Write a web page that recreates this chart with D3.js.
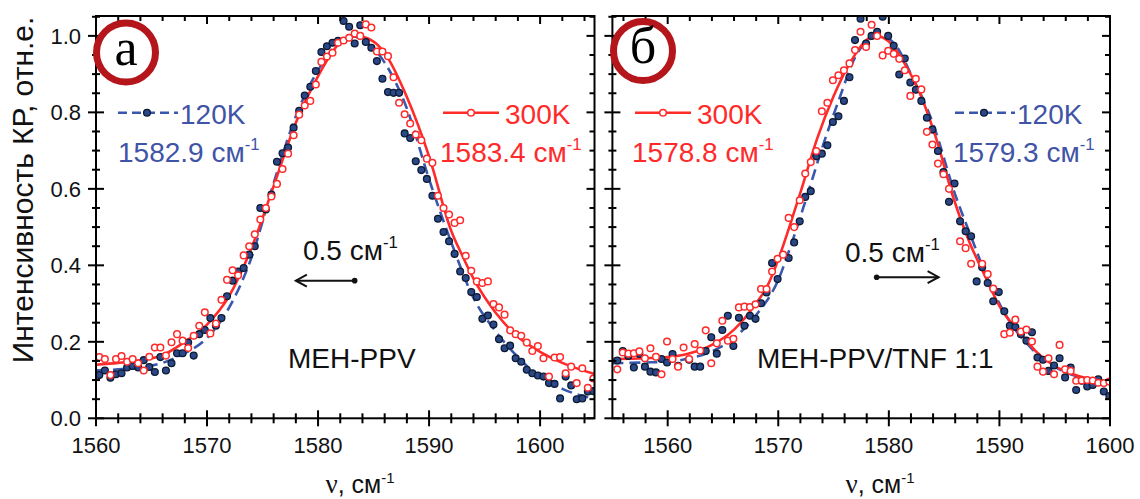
<!DOCTYPE html>
<html><head><meta charset="utf-8">
<script src="https://cdn.jsdelivr.net/npm/d3@7"></script>
<style>
body{margin:0;background:#fff}
svg{display:block}
</style>
</head><body>
<svg id="c" width="1140" height="499" font-family="'Liberation Sans',Arial,sans-serif"></svg>
<script>
// ---------- DATA ----------
// Panel (a) MEH-PPV : [wavenumber, normalised intensity]
const a120pts = [[1560.3,0.113],[1560.8,0.125],[1561.3,0.106],[1561.8,0.115],[1562.3,0.118],[1562.8,0.133],[1563.3,0.137],[1563.8,0.133],[1564.3,0.152],[1564.8,0.134],[1565.3,0.121],[1565.8,0.160],[1566.3,0.125],[1566.8,0.144],[1567.3,0.170],[1567.8,0.170],[1568.3,0.198],[1568.8,0.164],[1569.3,0.220],[1569.8,0.231],[1570.3,0.262],[1570.8,0.242],[1571.3,0.262],[1571.8,0.319],[1572.3,0.360],[1572.8,0.384],[1573.3,0.393],[1573.8,0.428],[1574.3,0.450],[1574.8,0.550],[1575.3,0.546],[1575.8,0.585],[1576.3,0.671],[1576.8,0.693],[1577.3,0.708],[1577.8,0.760],[1578.3,0.804],[1578.8,0.844],[1579.3,0.867],[1579.8,0.908],[1580.3,0.958],[1580.8,0.973],[1581.3,0.982],[1581.8,0.987],[1582.3,1.039],[1582.8,1.024],[1583.3,0.980],[1583.8,1.028],[1584.3,0.984],[1584.8,0.969],[1585.3,0.934],[1585.8,0.888],[1586.3,0.853],[1586.8,0.851],[1587.3,0.851],[1587.8,0.745],[1588.3,0.733],[1588.8,0.672],[1589.3,0.649],[1589.8,0.626],[1590.3,0.582],[1590.8,0.522],[1591.3,0.487],[1591.8,0.463],[1592.3,0.430],[1592.8,0.384],[1593.3,0.367],[1593.8,0.330],[1594.3,0.317],[1594.8,0.260],[1595.3,0.269],[1595.8,0.245],[1596.3,0.207],[1596.8,0.183],[1597.3,0.190],[1597.8,0.157],[1598.3,0.148],[1598.8,0.127],[1599.3,0.118],[1599.8,0.112],[1600.3,0.109],[1600.8,0.092],[1601.3,0.090],[1601.8,0.052],[1602.3,0.109],[1602.8,0.086],[1603.3,0.050],[1603.8,0.052],[1604.3,0.070],[1604.8,0.071]];
const a300pts = [[1560.3,0.160],[1560.8,0.155],[1561.3,0.113],[1561.8,0.155],[1562.3,0.163],[1562.8,0.148],[1563.3,0.155],[1563.8,0.144],[1564.3,0.125],[1564.8,0.161],[1565.3,0.185],[1565.8,0.185],[1566.3,0.164],[1566.8,0.199],[1567.3,0.220],[1567.8,0.203],[1568.3,0.184],[1568.8,0.216],[1569.3,0.242],[1569.8,0.277],[1570.3,0.222],[1570.8,0.248],[1571.3,0.310],[1571.8,0.362],[1572.3,0.387],[1572.8,0.374],[1573.3,0.426],[1573.8,0.450],[1574.3,0.481],[1574.8,0.520],[1575.3,0.550],[1575.8,0.580],[1576.3,0.613],[1576.8,0.652],[1577.3,0.692],[1577.8,0.740],[1578.3,0.794],[1578.8,0.818],[1579.3,0.830],[1579.8,0.873],[1580.3,0.932],[1580.8,0.946],[1581.3,0.956],[1581.8,0.982],[1582.3,0.988],[1582.8,0.995],[1583.3,1.006],[1583.8,1.000],[1584.3,1.030],[1584.8,1.022],[1585.3,0.959],[1585.8,0.959],[1586.3,0.947],[1586.8,0.892],[1587.3,0.825],[1587.8,0.795],[1588.3,0.771],[1588.8,0.742],[1589.3,0.727],[1589.8,0.679],[1590.3,0.668],[1590.8,0.582],[1591.3,0.550],[1591.8,0.533],[1592.3,0.511],[1592.8,0.518],[1593.3,0.425],[1593.8,0.386],[1594.3,0.358],[1594.8,0.354],[1595.3,0.358],[1595.8,0.299],[1596.3,0.290],[1596.8,0.271],[1597.3,0.230],[1597.8,0.220],[1598.3,0.216],[1598.8,0.198],[1599.3,0.176],[1599.8,0.189],[1600.3,0.157],[1600.8,0.109],[1601.3,0.159],[1601.8,0.160],[1602.3,0.118],[1602.8,0.135],[1603.3,0.092],[1603.8,0.131],[1604.3,0.080],[1604.8,0.104]];
const a120fit = [[1560,0.125],[1562,0.128],[1564,0.133],[1566,0.145],[1568,0.170],[1570,0.210],[1572,0.290],[1574,0.420],[1576,0.615],[1578,0.790],[1580,0.910],[1582,0.985],[1582.9,1.0],[1584,0.99],[1586,0.93],[1588,0.81],[1590,0.625],[1592,0.46],[1594,0.315],[1596,0.227],[1598,0.160],[1600,0.108],[1602,0.077],[1605,0.050]];
const a300fit = [[1560,0.140],[1562,0.145],[1564,0.152],[1566,0.165],[1568,0.200],[1570,0.245],[1572,0.320],[1574,0.445],[1576,0.607],[1578,0.773],[1580,0.895],[1582,0.983],[1583.4,1.0],[1585,0.985],[1586,0.955],[1588,0.840],[1590,0.685],[1592,0.490],[1593,0.425],[1594,0.365],[1596,0.276],[1598,0.213],[1600,0.174],[1602,0.145],[1605,0.115]];

// Panel (б) MEH-PPV/TNF 1:1
const b120pts = [[1555.44,0.151],[1555.94,0.176],[1556.44,0.163],[1556.94,0.133],[1557.44,0.168],[1557.94,0.135],[1558.44,0.122],[1558.94,0.120],[1559.44,0.155],[1559.94,0.146],[1560.44,0.168],[1560.94,0.137],[1561.94,0.153],[1562.44,0.135],[1562.94,0.135],[1563.44,0.176],[1563.94,0.212],[1564.44,0.169],[1564.94,0.231],[1565.44,0.268],[1565.94,0.189],[1566.44,0.263],[1566.94,0.242],[1567.44,0.268],[1567.94,0.260],[1568.44,0.301],[1568.94,0.329],[1569.44,0.406],[1569.94,0.364],[1570.94,0.419],[1571.44,0.460],[1571.94,0.515],[1572.44,0.579],[1572.94,0.594],[1573.44,0.685],[1573.94,0.692],[1574.44,0.714],[1574.94,0.775],[1575.44,0.790],[1575.94,0.830],[1576.44,0.892],[1576.94,0.989],[1577.44,1.045],[1577.94,0.980],[1578.44,1.000],[1578.94,1.011],[1579.44,1.050],[1579.94,1.000],[1580.44,0.974],[1580.94,0.899],[1581.44,0.941],[1581.94,0.878],[1582.44,0.859],[1582.94,0.830],[1583.44,0.786],[1583.94,0.755],[1584.44,0.699],[1584.94,0.644],[1585.44,0.566],[1585.94,0.614],[1586.44,0.515],[1586.94,0.489],[1587.44,0.476],[1587.94,0.358],[1588.44,0.395],[1588.94,0.354],[1589.44,0.306],[1589.94,0.330],[1590.44,0.280],[1590.94,0.242],[1591.44,0.239],[1591.94,0.220],[1592.44,0.203],[1592.94,0.225],[1593.44,0.159],[1593.94,0.153],[1594.44,0.124],[1594.94,0.138],[1595.44,0.157],[1595.94,0.107],[1596.44,0.133],[1596.94,0.074],[1597.44,0.098],[1597.94,0.083],[1598.44,0.087],[1598.94,0.102],[1599.44,0.070],[1599.94,0.058]];
const b300pts = [[1555.44,0.128],[1555.94,0.172],[1556.44,0.169],[1556.94,0.170],[1557.44,0.175],[1557.94,0.157],[1558.44,0.183],[1558.94,0.161],[1559.44,0.115],[1559.94,0.201],[1560.44,0.155],[1560.94,0.135],[1561.44,0.185],[1561.94,0.155],[1562.44,0.194],[1562.94,0.177],[1563.44,0.230],[1563.94,0.144],[1564.44,0.196],[1564.94,0.255],[1565.44,0.203],[1565.94,0.208],[1566.44,0.290],[1566.94,0.292],[1567.44,0.291],[1567.94,0.298],[1568.44,0.338],[1568.94,0.338],[1569.44,0.384],[1569.94,0.417],[1570.44,0.428],[1570.94,0.524],[1571.44,0.500],[1571.94,0.570],[1572.44,0.640],[1572.94,0.670],[1573.44,0.699],[1573.94,0.803],[1574.44,0.825],[1574.94,0.884],[1575.44,0.897],[1575.94,0.910],[1576.44,0.928],[1576.94,0.963],[1577.44,1.011],[1577.94,0.971],[1578.44,1.029],[1578.94,1.000],[1579.44,0.949],[1579.94,0.961],[1580.44,0.953],[1580.94,0.940],[1581.44,0.910],[1581.94,0.843],[1582.44,0.888],[1582.94,0.860],[1583.44,0.749],[1583.94,0.716],[1584.44,0.666],[1584.94,0.638],[1585.44,0.600],[1586.44,0.463],[1586.94,0.445],[1587.44,0.404],[1588.44,0.404],[1588.94,0.377],[1589.44,0.339],[1590.44,0.220],[1590.94,0.224],[1591.44,0.258],[1591.94,0.227],[1592.44,0.232],[1592.94,0.201],[1593.44,0.135],[1593.94,0.122],[1594.44,0.157],[1594.94,0.115],[1595.44,0.192],[1595.94,0.128],[1596.44,0.124],[1596.94,0.098],[1597.44,0.099],[1597.94,0.100],[1598.44,0.099],[1598.94,0.093],[1599.44,0.092],[1599.94,0.096]];
const b120fit = [[1555,0.144],[1558,0.146],[1560,0.148],[1562,0.157],[1564,0.175],[1566,0.210],[1568,0.270],[1570,0.362],[1571,0.440],[1572.5,0.572],[1574,0.710],[1575.5,0.834],[1577,0.947],[1578.5,0.995],[1579.3,1.0],[1580.5,0.980],[1582,0.900],[1584,0.770],[1586,0.585],[1587.5,0.470],[1589,0.360],[1591,0.250],[1593,0.180],[1595,0.135],[1597,0.110],[1600,0.093]];
const b300fit = [[1555,0.155],[1558,0.157],[1560,0.160],[1562,0.170],[1564,0.192],[1566,0.232],[1568,0.301],[1569,0.345],[1570,0.415],[1571,0.500],[1572,0.590],[1573.5,0.730],[1575,0.842],[1576.5,0.930],[1578,0.990],[1578.8,1.0],[1580,0.985],[1581.3,0.934],[1582.8,0.850],[1584.3,0.730],[1585.8,0.580],[1587.3,0.460],[1588.5,0.384],[1590.3,0.279],[1591.8,0.227],[1593.3,0.175],[1594.8,0.140],[1596.4,0.118],[1597.9,0.105],[1600,0.096]];

// Axis ticks / labels
const xMajorTicks = [1560, 1570, 1580, 1590, 1600];
const yMajorTicks = [0.0, 0.2, 0.4, 0.6, 0.8, 1.0];
const yMinorTicks = [0.05,0.1,0.15,0.25,0.3,0.35,0.45,0.5,0.55,0.65,0.7,0.75,0.85,0.9,0.95,1.05];
const xMinorA = [1562,1564,1566,1568,1572,1574,1576,1578,1582,1584,1586,1588,1592,1594,1596,1598,1602,1604];
const xMinorB = [1556,1558,1562,1564,1566,1568,1572,1574,1576,1578,1582,1584,1586,1588,1592,1594,1596,1598];
const yTitle = "Интенсивность КР, отн.е.";
const xTitle = "ν, см";
const legend120 = "120K", legend300 = "300K";
const peaksA = {k120: "1582.9 см", k300: "1583.4 см"};
const peaksB = {k120: "1579.3 см", k300: "1578.8 см"};
const sampleA = "MEH-PPV", sampleB = "MEH-PPV/TNF 1:1";
const shiftLabel = "0.5 см";
const panelLetters = ["а", "б"];

// ---------- STYLE ----------
const RED = "#ff2a2a", BLUE = "#3a57ae", DOT = "#2a4888", BLUET = "#3f54a6", RING = "#b5161c";
const SERIF = "'Liberation Serif','DejaVu Serif','Times New Roman',serif";
const svg = d3.select("#c");
const Y0 = 418.3, Y1 = 16;
const y = d3.scaleLinear().domain([0, 1.052]).range([Y0, Y1]);

const defs = svg.append("defs");

function sup(sel, main, fs) {
  sel.append("tspan").text(main);
  sel.append("tspan").attr("font-size", fs*0.6).attr("dy", -fs*0.42).text("-1");
}

function panel(o) {
  const x = d3.scaleLinear().domain(o.xd).range(o.xr);
  const g = svg.append("g");
  const cid = "clip" + o.id;
  defs.append("clipPath").attr("id", cid).append("rect")
    .attr("x", o.xr[0]).attr("y", Y1).attr("width", o.xr[1]-o.xr[0]).attr("height", Y0-Y1);
  const plot = g.append("g").attr("clip-path", `url(#${cid})`);
  const line = d3.line().x(d => x(d[0])).y(d => y(d[1])).curve(d3.curveMonotoneX);

  plot.append("path").datum(o.fit120).attr("d", line).attr("fill", "none")
    .attr("stroke", BLUE).attr("stroke-width", 2.6).attr("stroke-dasharray", "11,6");
  plot.append("path").datum(o.fit300).attr("d", line).attr("fill", "none")
    .attr("stroke", RED).attr("stroke-width", 2.6);
  plot.selectAll(".b").data(o.p120).join("circle")
    .attr("cx", d => x(d[0])).attr("cy", d => y(d[1])).attr("r", 3.4)
    .attr("fill", DOT).attr("stroke", "#0d1a33").attr("stroke-width", 1.3);
  plot.selectAll(".r").data(o.p300).join("circle")
    .attr("cx", d => x(d[0])).attr("cy", d => y(d[1])).attr("r", 3.3)
    .attr("fill", "#fff").attr("stroke", RED).attr("stroke-width", 1.5);

  // axes
  const ax = g.append("g").attr("stroke", "#000").attr("fill", "none");
  ax.append("rect").attr("x", o.xr[0]).attr("y", Y1).attr("width", o.xr[1]-o.xr[0]).attr("height", Y0-Y1)
    .attr("stroke-width", 2);
  const tick = (x1, y1, x2, y2, w) => ax.append("line").attr("x1", x1).attr("y1", y1).attr("x2", x2).attr("y2", y2).attr("stroke-width", w || 2);
  xMajorTicks.forEach(t => { const px = x(t); tick(px, Y0-8, px, Y0+8); tick(px, Y1, px, Y1+8); });
  o.xMinor.forEach(t => { const px = x(t); tick(px, Y0-5, px, Y0+5); tick(px, Y1, px, Y1+5); });
  const L = o.xr[0], R = o.xr[1];
  yMajorTicks.forEach(t => { const py = y(t); tick(L-8, py, L+8, py); tick(R-8, py, R, py); });
  yMinorTicks.forEach(t => { const py = y(t); tick(L-4, py, L+4, py); tick(R-5, py, R, py); });

  const tl = g.append("g").attr("font-size", 22).attr("fill", "#111");
  xMajorTicks.forEach(t => tl.append("text").attr("x", x(t)).attr("y", 452.5).attr("text-anchor", "middle").text(t));
  if (o.yLabels) yMajorTicks.forEach(t => tl.append("text").attr("x", 81).attr("y", y(t)+8).attr("text-anchor", "end").text(t.toFixed(1)));

  // x title
  const xt = g.append("text").attr("x", o.xTitleX).attr("y", 493).attr("font-size", 25).attr("fill", "#111").attr("text-anchor", "middle");
  xt.append("tspan").style("font-family", SERIF).attr("font-size", 27).text(xTitle.slice(0,1));
  sup(xt, xTitle.slice(1), 25);

  // letter ring
  g.append("circle").attr("cx", o.ring[0]).attr("cy", o.ring[1]).attr("r", 29.5)
    .attr("fill", "#fff").attr("stroke", RING).attr("stroke-width", 7);
  g.append("text").attr("x", o.ring[0]).attr("y", o.ring[1]+12).attr("text-anchor", "middle")
    .style("font-family", SERIF).attr("font-size", 52).attr("fill", "#000").text(o.letter);

  // legends
  const lg = g.append("g");
  function legBlue(x0, yy) {
    lg.append("line").attr("x1", x0).attr("x2", x0+60).attr("y1", yy).attr("y2", yy)
      .attr("stroke", BLUE).attr("stroke-width", 2.6).attr("stroke-dasharray", "9,5");
    lg.append("circle").attr("cx", x0+29).attr("cy", yy).attr("r", 3.4).attr("fill", DOT).attr("stroke", "#0d1a33").attr("stroke-width", 1.3);
  }
  function legRed(x0, yy) {
    lg.append("line").attr("x1", x0).attr("x2", x0+56).attr("y1", yy).attr("y2", yy)
      .attr("stroke", RED).attr("stroke-width", 2.6);
    lg.append("circle").attr("cx", x0+28).attr("cy", yy).attr("r", 3.3).attr("fill", "#fff").attr("stroke", RED).attr("stroke-width", 1.5);
  }
  o.legends.forEach(l => {
    if (l.k === 120) legBlue(l.x, 112.7); else legRed(l.x, 112.7);
    lg.append("text").attr("x", l.tx).attr("y", 124).attr("font-size", 28).attr("fill", l.k === 120 ? BLUET : RED).text(l.k === 120 ? legend120 : legend300);
    const pt = lg.append("text").attr("x", l.px).attr("y", 162).attr("font-size", 28).attr("fill", l.k === 120 ? BLUET : RED);
    sup(pt, l.peak, 28);
  });

  // sample name
  g.append("text").attr("x", o.sample[0]).attr("y", o.sample[1]).attr("font-size", 28).attr("fill", "#111").text(o.sampleText);

  // shift arrow
  const s = o.shift;
  const sx0 = x(s.from), sx1 = x(s.to), sy = y(s.v);
  const st = g.append("text").attr("x", s.tx).attr("y", s.ty).attr("font-size", 28).attr("fill", "#111");
  sup(st, shiftLabel, 28);
  g.append("line").attr("x1", sx0).attr("x2", sx1).attr("y1", sy).attr("y2", sy).attr("stroke", "#111").attr("stroke-width", 2);
  g.append("circle").attr("cx", sx0).attr("cy", sy).attr("r", 2.8).attr("fill", "#111");
  const dir = Math.sign(sx1 - sx0);
  g.append("path").attr("d", `M${sx1-dir*11},${sy-6}L${sx1},${sy}L${sx1-dir*11},${sy+6}`)
    .attr("fill", "none").attr("stroke", "#111").attr("stroke-width", 2);
}

panel({id: "a", xd: [1560, 1604.9], xr: [96, 594.5], xMinor: xMinorA, yLabels: true,
  p120: a120pts, p300: a300pts, fit120: a120fit, fit300: a300fit,
  xTitleX: 360, ring: [126, 52.5], letter: panelLetters[0],
  legends: [{k: 120, x: 118, tx: 180, px: 118, peak: peaksA.k120}, {k: 300, x: 443, tx: 505, px: 440, peak: peaksA.k300}],
  sample: [288, 368], sampleText: sampleA,
  shift: {from: 1583.3, to: 1578.0, v: 0.36, tx: 303, ty: 260}});

panel({id: "b", xd: [1555, 1600], xr: [612.4, 1110], xMinor: xMinorB, yLabels: false,
  p120: b120pts, p300: b300pts, fit120: b120fit, fit300: b300fit,
  xTitleX: 880, ring: [643, 51], letter: panelLetters[1],
  legends: [{k: 300, x: 635, tx: 697, px: 632, peak: peaksB.k300}, {k: 120, x: 955, tx: 1017, px: 953, peak: peaksB.k120}],
  sample: [757, 368], sampleText: sampleB,
  shift: {from: 1578.9, to: 1584.5, v: 0.369, tx: 845, ty: 262}});

// y title
svg.append("text").attr("transform", "translate(33,190) rotate(-90)").attr("text-anchor", "middle")
  .attr("font-size", 30).attr("fill", "#111").text(yTitle);
</script>
</body></html>
